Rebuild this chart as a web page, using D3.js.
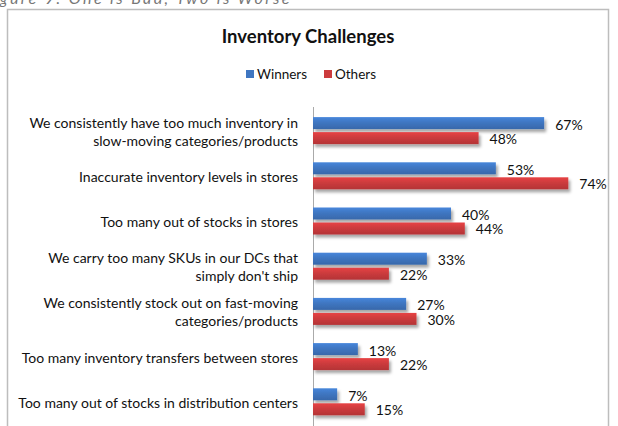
<!DOCTYPE html>
<html><head><meta charset="utf-8">
<script src="https://cdn.jsdelivr.net/npm/d3@7"></script>
<style>
html,body{margin:0;padding:0;background:#fff;}
svg{display:block;font-family:Lato, "Open Sans", sans-serif;}
</style>
</head><body>
<svg id="chart" width="618" height="426"></svg>
<script>
const categories = [
  ["We consistently have too much inventory in", "slow-moving categories/products"],
  ["Inaccurate inventory levels in stores"],
  ["Too many out of stocks in stores"],
  ["We carry too many SKUs in our DCs that", "simply don't ship"],
  ["We consistently stock out on fast-moving", "categories/products"],
  ["Too many inventory transfers between stores"],
  ["Too many out of stocks in distribution centers"]
];
const seriesNames = ["Winners", "Others"];
const winners = [67, 53, 40, 33, 27, 13, 7];
const others  = [48, 74, 44, 22, 30, 22, 15];
const colors = ["#3f76c1", "#cc3b3d"];
const title = "Inventory Challenges";
const caption = "Figure 9: One is Bad, Two is Worse";

const svg = d3.select("#chart");
const defs = svg.append("defs");
colors.forEach((c, i) => {
  const g = defs.append("linearGradient").attr("id", "grad" + i)
    .attr("x1", 0).attr("y1", 0).attr("x2", 0).attr("y2", 1);
  g.append("stop").attr("offset", "0%").attr("stop-color", d3.color(c).brighter(0.35));
  g.append("stop").attr("offset", "45%").attr("stop-color", c);
  g.append("stop").attr("offset", "100%").attr("stop-color", d3.color(c).darker(0.35));
});
const f = defs.append("filter").attr("id", "shadow").attr("x", "-5%").attr("y", "-30%").attr("width", "115%").attr("height", "190%");
f.append("feDropShadow").attr("dx", 2).attr("dy", 3).attr("stdDeviation", 1.6)
  .attr("flood-color", "#000").attr("flood-opacity", 0.35);

// caption (cropped at top, as in the source image)
svg.append("text").attr("x", -17).attr("y", 4)
  .attr("font-style", "italic").attr("font-size", 16).attr("fill", "#777")
  .attr("letter-spacing", 2.4).text(caption);

// chart border
svg.append("rect").attr("x", 7.5).attr("y", 9.5).attr("width", 601).attr("height", 440)
  .attr("fill", "#fff").attr("stroke", "#bdbdbd").attr("stroke-width", 1.5);

// title
svg.append("text").attr("x", 308).attr("y", 43).attr("text-anchor", "middle")
  .attr("font-weight", "bold").attr("font-size", 18.5).attr("fill", "#111").text(title);

// legend
const legendX = [246, 324];
seriesNames.forEach((n, i) => {
  svg.append("rect").attr("x", legendX[i]).attr("y", 70).attr("width", 8).attr("height", 8).attr("fill", colors[i]);
  svg.append("text").attr("x", legendX[i] + 11).attr("y", 79).attr("font-size", 13.5).attr("fill", "#111").text(n);
});

const x = d3.scaleLinear().domain([0, 80]).range([313, 589]);
const y = d3.scaleBand().domain(d3.range(categories.length)).range([108, 424.4]);

// axis
const axis = svg.append("g").attr("transform", "translate(313,0)")
  .call(d3.axisLeft(y).tickSize(0).tickFormat(""));
axis.select(".domain").attr("stroke", "#aaa").attr("d", "M0.5,107V426");

// category labels
categories.forEach((lines, i) => {
  const cy = y(i) + y.bandwidth() / 2 + 1;
  const t = svg.append("text").attr("text-anchor", "end").attr("font-size", 14).attr("fill", "#111");
  const lh = 18;
  lines.forEach((l, j) => {
    t.append("tspan").attr("x", 298)
      .attr("y", cy + (j - (lines.length - 1) / 2) * lh).attr("dy", "0.35em").text(l);
  });
});

// bars
const data = [winners, others];
data.forEach((vals, s) => {
  const g = svg.append("g").attr("filter", "url(#shadow)");
  g.selectAll("rect").data(vals).join("rect")
    .attr("x", x(0))
    .attr("y", (d, i) => y(i) + y.bandwidth() / 2 + (s === 0 ? -13.5 : 1.5))
    .attr("width", d => x(d) - x(0))
    .attr("height", 12)
    .attr("fill", "url(#grad" + s + ")");
  svg.append("g").selectAll("text").data(vals).join("text")
    .attr("x", d => x(d) + 11)
    .attr("y", (d, i) => y(i) + y.bandwidth() / 2 + (s === 0 ? -6 : 8.5))
    .attr("dy", "0.35em")
    .attr("font-size", 14).attr("fill", "#111")
    .text(d => d + "%");
});
</script>
</body></html>
